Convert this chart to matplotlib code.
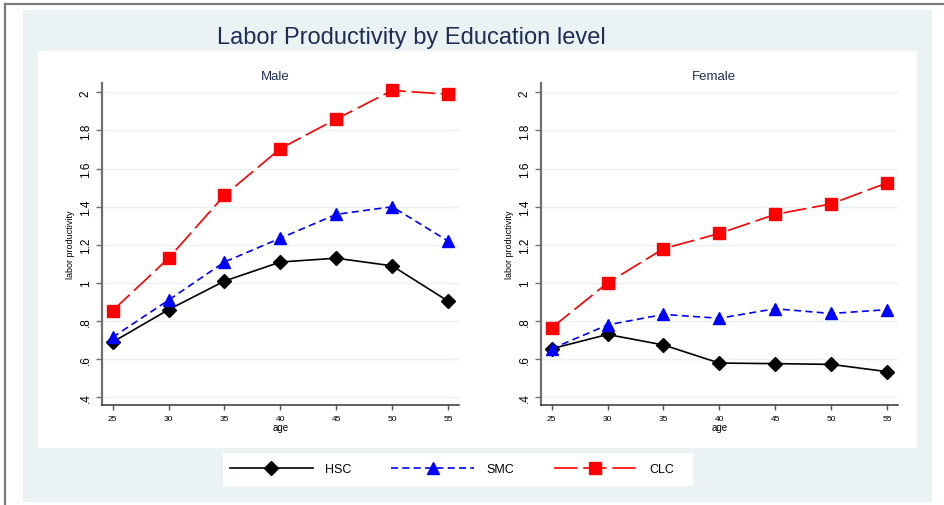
import matplotlib
matplotlib.use("Agg")
import matplotlib.pyplot as plt
from matplotlib.patches import Rectangle
from matplotlib.lines import Line2D

plt.rcParams['font.family'] = ['Liberation Sans', 'DejaVu Sans']

ages = [25, 30, 35, 40, 45, 50, 55]
male_hsc = [0.69, 0.86, 1.01, 1.11, 1.13, 1.09, 0.905]
male_smc = [0.715, 0.91, 1.11, 1.235, 1.36, 1.40, 1.22]
male_clc = [0.855, 1.13, 1.46, 1.705, 1.86, 2.01, 1.99]
female_hsc = [0.655, 0.73, 0.675, 0.58, 0.577, 0.573, 0.535]
female_smc = [0.655, 0.78, 0.835, 0.815, 0.865, 0.84, 0.86]
female_clc = [0.765, 1.0, 1.18, 1.26, 1.36, 1.415, 1.525]
yticks = [0.4, 0.6, 0.8, 1.0, 1.2, 1.4, 1.6, 1.8, 2.0]
ytick_labels = ['.4', '.6', '.8', '1', '1.2', '1.4', '1.6', '1.8', '2']
series_names = ['HSC', 'SMC', 'CLC']

W, H = 944, 506
NAVY = '#1e2d53'
PANEL = '#eaf2f3'

fig = plt.figure(figsize=(W / 100, H / 100), dpi=100)
fig.patch.set_facecolor('white')


def px_rect(x0, y0, x1, y1, **kw):
    # rectangle given in pixel coords (top-left origin)
    r = Rectangle((x0 / W, 1 - y1 / H), (x1 - x0) / W, (y1 - y0) / H,
                  transform=fig.transFigure, zorder=-10, **kw)
    fig.patches.append(r)


px_rect(23, 11, 932, 503, facecolor=PANEL, edgecolor='none')
px_rect(38, 52, 917, 449, facecolor='white', edgecolor='none')
px_rect(223, 454, 693, 487, facecolor='white', edgecolor='none')
fig.lines.append(Line2D([4.5 / W, 1], [1 - 5 / H, 1 - 5 / H], transform=fig.transFigure,
                        color='#7a7a7a', lw=1.6, zorder=-5))
fig.lines.append(Line2D([5 / W, 5 / W], [0, 1 - 4.5 / H], transform=fig.transFigure,
                        color='#7a7a7a', lw=1.6, zorder=-5))

fig.text(411 / W, 1 - 38 / H, 'Labor Productivity by Education level', ha='center',
         va='center', fontsize=17, color=NAVY)

styles = [
    dict(color='black', marker='D', ms=7.5, ls='-', lw=1.2),
    dict(color='#0000ff', marker='^', ms=8.5, ls=(0, (4.2, 2.6)), lw=1.2),
    dict(color='#ff0000', marker='s', ms=8, ls=(0, (14, 3.5)), lw=1.2),
]

panels = [
    ('Male', 102, [male_hsc, male_smc, male_clc]),
    ('Female', 541, [female_hsc, female_smc, female_clc]),
]

handles = []
for name, left, data in panels:
    ax = fig.add_axes([left / W, 1 - 406 / H, 357 / W, 322 / H])
    ax.set_facecolor('white')
    for vals, st, lab in zip(data, styles, series_names):
        ln, = ax.plot(ages, vals, label=lab, **st)
        if name == 'Male':
            handles.append(ln)
    ax.set_xlim(24.05, 55.98)
    ax.set_ylim(0.36, 2.049)
    ax.set_xticks(ages)
    ax.set_xticklabels([str(a) for a in ages], fontsize=6)
    ax.set_yticks(yticks)
    ax.set_yticklabels(ytick_labels, fontsize=8.5, rotation=90, va='center')
    ax.grid(axis='y', color=PANEL, lw=1.0)
    ax.set_axisbelow(True)
    for s in ['top', 'right']:
        ax.spines[s].set_visible(False)
    ax.spines['left'].set_color('#6e6e6e')
    ax.spines['left'].set_linewidth(1.6)
    ax.spines['bottom'].set_color('#333333')
    ax.spines['bottom'].set_linewidth(1.1)
    ax.tick_params(axis='y', length=4.5, width=1.0, color='#6e6e6e', pad=3)
    ax.tick_params(axis='x', length=3.5, width=1.0, color='#555555', pad=4)
    ax.set_xlabel('age', fontsize=7, labelpad=0)
    ax.set_ylabel('labor productivity', fontsize=6.5, labelpad=3)
    ax.set_title(name, fontsize=9.5, color=NAVY, pad=3, x=0.485)

fig.legend(handles=handles, labels=series_names, loc='center', ncol=3,
           bbox_to_anchor=(452 / W, 1 - 470 / H), frameon=False, numpoints=1,
           fontsize=9, handlelength=6.6, handletextpad=1.0, columnspacing=3.2)

fig.savefig('out.png', dpi=100, facecolor='white')
